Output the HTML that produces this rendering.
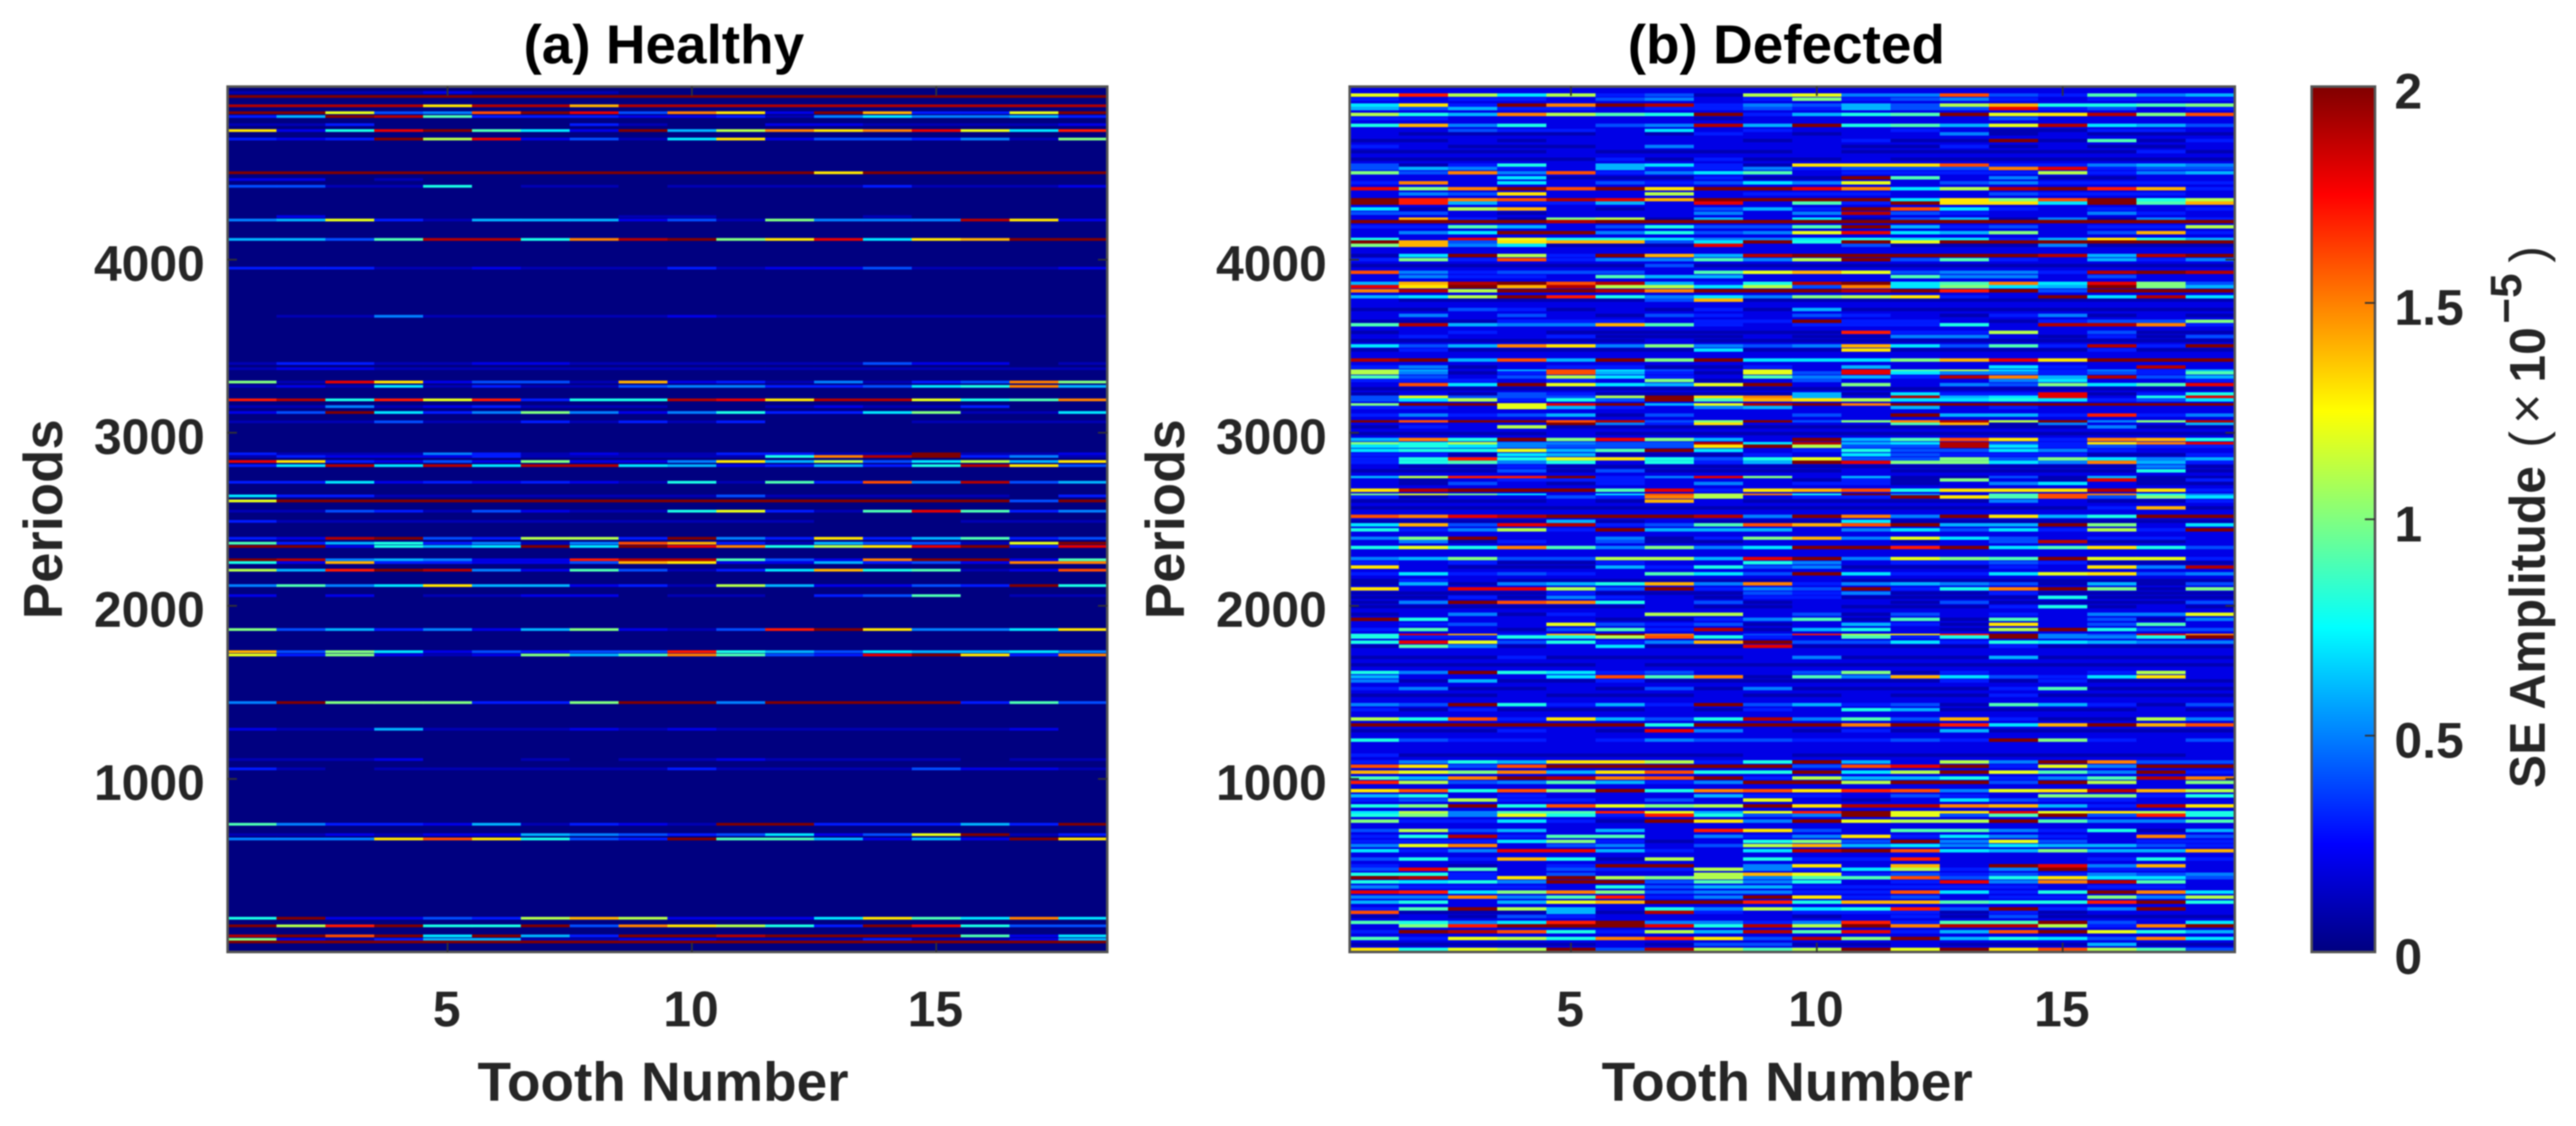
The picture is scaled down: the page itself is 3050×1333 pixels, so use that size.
<!DOCTYPE html>
<html lang="en">
<head>
<meta charset="utf-8">
<title>SE amplitude heatmaps: healthy and defected</title>
<style>
html,body{margin:0;padding:0;background:#fff;}
body{width:3050px;height:1333px;overflow:hidden;}
svg{display:block;filter:blur(0.7px);font-family:"Liberation Sans",sans-serif;}
.lbl{font-weight:bold;fill:#262626;}
.ttl{font-weight:bold;fill:#000;}
</style>
</head>
<body>
<svg id="figure" xmlns="http://www.w3.org/2000/svg" width="3050" height="1333" viewBox="0 0 3050 1333">
  <rect x="0" y="0" width="3050" height="1333" fill="#fff"/>
  <g id="panelA"></g>
  <g id="panelB"></g>
  <g id="colorbar"></g>
</svg>
<script>
// Shared chart data
const toothNumbers = [1,2,3,4,5,6,7,8,9,10,11,12,13,14,15,16,17,18];
const xTickValues = [5,10,15];
const yTickValues = [1000,2000,3000,4000];
const colorbarTickValues = [0,0.5,1,1.5,2];
const colorbarTickLabels = ["0","0.5","1","1.5","2"];
const amplitudeUnit = 0.1; // cell values are stored in tenths of 1e-5

// (a) Healthy: one row per visible period band, values for teeth 1 to 18
const healthyPeriods = [4966,4943,4889,4849,4827,4780,4746,4697,4502,4463,4424,4249,4229,4117,3951,3673,3400,3370,3293,3268,3190,3151,3117,3063,2878,2863,2834,2810,2714,2635,2606,2547,2488,2390,2362,2343,2266,2250,2206,2117,2059,1863,1735,1716,1441,1287,1112,1058,738,678,653,195,151,93,73,58];
const healthyValues = [
[1,1,1,1,2,1,1,1,0,0,0,0,0,0,0,0,0,0],
[20,20,20,20,20,20,20,20,20,20,20,20,20,20,20,20,20,20],
[19,19,19,19,13,19,19,14,19,19,19,19,19,19,19,19,19,19],
[20,20,12,4,5,16,20,18,4,15,13,2,20,14,3,3,12,20],
[3,6,20,19,9,3,3,3,2,2,3,1,5,7,5,5,6,3],
[1,1,3,0,0,0,0,3,1,0,0,2,2,1,1,1,1,2],
[13,2,8,18,20,9,7,2,20,6,11,15,13,15,18,12,7,17],
[3,2,3,20,11,18,2,4,1,7,13,2,4,4,3,5,1,10],
[20,20,20,20,20,20,20,20,20,20,20,20,13,20,20,20,20,20],
[2,2,0,1,0,0,0,0,0,0,0,0,0,0,0,0,0,0],
[4,4,1,1,8,0,1,1,0,1,1,1,1,3,1,1,1,2],
[0,2,0,0,0,0,0,0,1,1,0,0,0,1,0,0,0,0],
[5,6,12,3,1,6,6,6,2,4,1,10,5,5,5,19,13,2],
[6,6,4,9,19,19,8,15,19,20,10,13,18,7,13,14,20,20],
[3,3,3,1,1,2,1,1,1,3,1,2,2,4,1,1,1,2],
[0,1,1,5,1,1,1,1,1,2,1,1,1,1,1,1,1,1],
[1,3,3,1,1,2,2,1,1,1,1,1,1,4,2,2,0,1],
[1,2,2,1,1,1,1,1,1,1,1,1,1,1,1,1,1,1],
[10,1,18,13,2,4,4,1,14,2,3,1,5,1,3,4,15,10],
[1,2,1,7,1,3,1,1,4,5,5,3,3,4,7,8,15,6],
[17,19,8,17,12,17,3,8,8,19,18,13,19,19,12,8,9,15],
[1,1,5,1,2,3,1,1,1,0,0,1,2,1,1,3,0,0],
[2,4,20,7,3,5,10,5,2,5,8,3,3,7,10,1,1,7],
[1,1,1,4,1,1,3,1,3,1,3,0,0,0,1,1,1,1],
[3,1,1,1,5,3,1,2,1,1,3,3,1,1,20,1,1,2],
[1,3,2,2,2,3,1,1,1,1,1,8,15,19,20,3,5,1],
[18,13,3,2,4,2,10,2,2,5,13,6,11,4,7,11,6,13],
[3,7,19,7,19,7,19,19,7,6,2,3,6,3,8,19,13,4],
[3,3,7,2,3,2,3,2,1,8,1,9,3,16,5,19,4,6],
[7,3,3,1,1,1,1,1,1,1,4,1,1,1,1,1,0,3],
[12,20,20,20,20,20,20,20,20,20,20,20,20,20,20,20,4,20],
[1,1,4,3,1,4,2,1,1,8,12,3,1,9,18,9,3,5],
[3,1,1,1,1,1,1,1,1,1,1,1,0,0,0,1,1,1],
[3,2,19,20,4,3,11,11,3,20,5,3,13,3,6,9,3,4],
[9,3,6,8,3,5,1,5,16,14,3,1,6,4,4,1,12,20],
[20,20,2,8,6,7,20,7,20,18,15,8,11,13,18,20,3,18],
[20,19,5,6,5,2,2,17,19,19,9,4,2,15,20,20,2,9],
[8,2,14,3,3,2,2,4,14,13,2,2,6,3,4,2,15,15],
[11,6,17,20,19,5,2,9,4,1,3,7,14,8,9,1,2,16],
[5,9,5,7,13,6,6,2,3,1,11,6,2,2,4,3,20,8],
[2,0,2,0,1,1,2,2,0,1,1,0,3,4,9,0,1,1],
[10,4,6,3,5,2,6,10,2,1,4,17,20,13,5,5,7,13],
[14,4,10,7,2,4,3,4,4,17,8,6,4,7,6,6,7,5],
[12,3,10,2,1,2,10,6,9,15,9,4,3,18,20,13,3,15],
[5,20,10,10,10,3,3,10,20,20,5,20,20,20,20,3,9,4],
[2,1,1,6,1,1,1,2,1,2,1,1,1,1,1,1,2,0],
[1,1,1,2,0,0,1,0,1,1,2,1,1,1,1,0,1,1],
[3,1,0,1,1,1,1,1,1,3,1,1,1,1,4,2,2,1],
[9,5,3,3,2,6,1,3,2,1,20,20,3,3,3,6,3,20],
[1,1,2,1,2,2,6,5,4,3,4,7,2,4,12,20,1,3],
[5,5,5,13,16,13,8,4,3,20,9,9,6,2,6,2,20,13],
[8,20,2,2,4,3,11,14,11,2,2,2,7,13,9,7,15,7],
[20,11,17,20,8,8,20,4,15,13,11,8,3,20,18,8,4,4],
[19,20,16,20,7,20,6,3,20,20,19,20,20,20,20,9,2,7],
[10,2,1,3,6,6,1,1,2,2,1,1,1,3,1,1,2,6],
[20,20,20,20,20,20,20,20,20,20,20,20,20,20,20,20,20,20]
];

// (b) Defected: one row per visible period band, values for teeth 1 to 18
const defectedPeriods = [4951,4927,4893,4873,4839,4815,4776,4746,4727,4688,4654,4624,4580,4546,4527,4502,4473,4444,4410,4380,4346,4327,4293,4268,4234,4220,4190,4156,4117,4102,4083,4024,4000,3966,3927,3902,3863,3844,3820,3785,3766,3712,3678,3644,3624,3580,3556,3532,3502,3478,3420,3380,3356,3346,3322,3302,3278,3254,3224,3205,3190,3161,3146,3102,3063,3049,3034,2995,2961,2937,2922,2898,2873,2849,2829,2805,2780,2741,2727,2707,2668,2639,2629,2605,2566,2517,2488,2468,2439,2390,2371,2337,2273,2249,2224,2185,2146,2127,2098,2073,2049,2020,1995,1951,1922,1893,1863,1829,1820,1790,1766,1702,1659,1615,1590,1566,1522,1483,1429,1400,1346,1312,1278,1224,1137,1098,1073,1039,1005,980,932,902,878,844,805,790,756,702,668,639,615,585,537,498,478,449,429,405,376,346,317,288,249,229,205,171,151,117,78,44,15];
const defectedValues = [
[12,17,11,7,11,3,4,1,11,12,5,5,16,4,3,9,5,6],
[3,2,3,3,2,4,5,2,3,10,3,4,5,3,2,3,3,3],
[7,13,3,20,15,20,19,3,5,4,6,4,11,14,8,8,9,10],
[6,4,6,3,3,2,3,3,4,3,6,4,4,18,3,4,2,3],
[11,8,6,15,11,9,8,20,3,6,8,9,20,12,13,19,10,16],
[3,3,2,2,2,2,2,1,2,2,2,2,2,4,2,2,2,2],
[8,14,5,8,2,4,5,19,6,20,8,9,6,12,19,7,6,4],
[2,2,4,3,3,2,7,2,3,2,2,3,2,1,1,3,3,2],
[2,1,1,1,1,2,1,3,2,1,2,2,5,1,2,1,1,1],
[1,1,2,1,2,2,2,2,1,2,3,1,1,20,1,9,1,3],
[3,2,1,1,1,2,5,2,2,2,1,1,3,1,2,1,1,2],
[1,1,1,1,2,1,1,1,1,2,1,1,1,1,1,1,3,1],
[1,1,1,1,1,3,1,3,1,1,2,1,1,1,1,1,1,1],
[4,1,3,8,2,6,7,3,1,13,13,13,16,3,3,5,6,5],
[4,6,5,3,2,6,3,3,5,3,4,4,4,15,18,3,4,4],
[10,4,15,5,16,3,5,7,9,2,3,3,3,3,11,3,5,6],
[2,2,2,7,1,1,1,3,1,1,20,9,2,5,1,1,2,2],
[3,15,2,7,2,4,3,4,7,5,12,2,4,5,3,3,3,3],
[18,10,15,20,16,20,13,20,20,18,15,7,11,19,20,17,14,3],
[2,5,4,13,2,2,11,2,3,3,3,2,2,4,3,3,3,2],
[20,17,15,16,19,18,14,20,20,20,20,7,13,10,16,20,8,11],
[20,17,6,3,3,6,2,18,2,9,3,20,13,13,7,20,9,14],
[7,1,11,14,2,1,2,4,6,3,20,16,7,3,2,3,2,3],
[4,4,2,1,2,2,2,5,2,5,19,4,3,2,2,5,3,2],
[2,14,3,1,10,11,1,6,2,7,1,4,6,1,5,1,5,3],
[20,20,20,20,19,20,20,20,20,20,20,20,20,20,20,20,20,20],
[3,3,9,6,2,4,8,4,4,9,20,6,3,4,2,3,3,11],
[2,5,7,20,20,5,8,4,5,12,18,7,6,10,2,4,14,3],
[8,2,18,12,8,8,7,5,5,7,8,7,7,3,6,13,8,6],
[20,14,4,13,14,14,4,7,20,8,20,12,20,20,20,20,20,20],
[10,14,5,7,1,1,1,18,2,2,4,1,1,1,5,1,1,1],
[1,7,20,11,3,20,14,6,19,20,20,20,20,20,19,6,19,20],
[3,10,3,16,3,5,5,9,5,11,20,4,9,3,2,6,3,5],
[1,1,1,1,1,1,4,1,1,1,1,1,1,1,1,1,1,1],
[16,5,3,4,4,4,2,9,12,14,12,4,5,5,3,19,20,19],
[2,5,3,3,2,9,6,6,2,2,2,9,5,5,2,4,2,2],
[6,14,19,20,16,19,6,3,8,19,20,7,9,15,7,18,10,4],
[18,13,20,14,19,11,11,7,11,4,15,7,10,7,6,20,10,6],
[15,19,11,20,20,19,15,20,20,20,19,20,17,20,4,20,20,20],
[6,7,11,20,17,8,5,7,5,10,11,13,3,2,20,7,19,7],
[2,1,1,1,1,1,4,14,1,1,1,1,1,1,1,1,1,1],
[1,1,4,3,1,2,1,3,1,6,1,1,1,1,1,1,1,1],
[2,5,2,4,2,1,4,3,2,4,3,2,1,3,5,1,2,1],
[1,1,1,3,3,3,2,3,3,20,3,3,2,1,3,4,4,10],
[9,19,6,5,5,14,9,3,2,3,3,3,8,2,19,19,15,3],
[1,2,3,2,1,1,1,1,1,1,17,3,3,11,2,4,1,1],
[2,3,2,2,3,1,1,1,2,1,1,5,5,2,1,3,1,4],
[1,1,1,1,1,1,2,1,1,1,1,1,1,1,1,1,1,1],
[7,4,6,15,13,5,10,5,4,5,14,7,4,9,3,19,3,20],
[1,3,1,1,1,1,1,7,1,1,13,1,1,1,1,3,1,1],
[19,20,6,16,6,20,10,20,7,7,7,10,14,18,13,20,20,20],
[3,5,1,2,3,3,1,1,3,2,6,2,2,7,3,2,19,2],
[11,6,2,6,16,7,4,2,12,2,18,9,11,7,3,5,3,6],
[11,5,1,3,16,6,3,1,12,4,18,7,5,5,3,4,3,9],
[9,4,2,4,11,7,3,2,9,5,6,3,19,15,6,19,4,6],
[3,3,3,2,3,2,10,1,2,4,2,2,2,5,7,2,2,3],
[2,16,7,20,12,7,6,12,20,2,10,2,5,4,10,7,9,18],
[1,1,1,1,1,1,1,1,1,1,1,1,1,1,1,1,1,1],
[1,2,1,4,3,1,1,1,1,6,1,7,3,3,18,1,3,8],
[4,12,4,4,4,11,20,13,15,6,2,19,6,7,18,2,8,18],
[4,7,11,3,8,4,20,9,14,13,11,7,7,8,7,3,4,7],
[10,20,20,12,18,20,6,12,19,20,15,20,20,20,20,20,20,20],
[3,3,2,12,6,3,2,5,6,2,2,6,2,3,2,2,2,2],
[3,5,3,4,6,1,4,2,2,4,2,20,6,6,3,17,3,5],
[20,16,20,20,16,19,4,10,20,4,10,15,19,11,20,5,10,19],
[2,2,2,2,20,5,3,13,2,2,2,9,14,1,5,2,2,6],
[1,3,2,11,1,1,1,1,1,1,1,1,1,1,1,5,1,1],
[1,1,1,1,2,1,1,1,1,1,1,1,1,1,1,1,1,1],
[6,15,8,20,10,18,10,6,2,20,6,9,16,13,3,15,14,8],
[10,8,11,5,5,4,4,19,7,19,6,7,19,4,3,13,15,18],
[7,8,7,5,4,4,4,13,20,11,4,4,19,7,3,4,3,3],
[7,8,8,12,6,9,20,7,2,3,8,4,4,7,5,3,2,2],
[3,3,1,7,6,1,1,1,3,2,7,4,3,3,3,1,1,3],
[3,8,17,8,12,13,8,4,8,12,4,4,10,4,10,7,5,6],
[3,8,9,5,8,2,8,3,6,20,18,10,10,7,5,15,6,3],
[2,1,1,3,1,1,1,1,1,1,1,1,1,1,1,1,5,1],
[1,1,1,4,1,4,1,1,1,1,2,1,1,1,1,1,8,1],
[6,11,17,17,20,3,5,18,10,2,6,1,1,4,1,6,1,1],
[2,1,2,3,3,3,2,2,2,1,3,1,10,2,1,18,1,3],
[2,1,4,2,1,3,2,5,2,3,3,1,2,5,7,2,1,1],
[13,19,20,20,20,9,18,3,13,14,16,8,13,13,13,19,13,3],
[10,12,10,7,2,7,16,11,15,8,20,5,2,9,16,15,8,5],
[3,1,2,2,4,3,15,11,2,3,3,20,13,9,16,4,10,7],
[1,1,1,1,2,1,14,2,1,1,1,1,1,5,2,1,1,3],
[1,1,1,1,1,1,1,1,1,1,1,1,1,1,1,3,14,1],
[16,15,18,19,20,20,20,19,5,20,15,5,20,13,6,8,20,20],
[1,1,1,1,6,1,2,1,1,1,7,1,1,1,1,1,1,1],
[7,14,4,18,19,3,4,9,16,14,16,20,6,6,20,10,2,7],
[8,3,5,11,3,20,6,6,6,2,5,7,4,7,3,11,3,20],
[5,10,20,2,2,5,1,3,10,14,5,12,7,4,2,3,3,2],
[2,5,1,3,2,4,1,1,2,2,2,1,2,4,19,1,1,2],
[8,12,8,15,9,5,10,5,7,20,20,17,20,7,9,13,8,4],
[5,6,10,4,4,11,11,6,18,20,5,12,10,9,20,12,12,3],
[3,2,3,1,1,3,2,2,8,5,2,3,3,4,3,1,1,1],
[13,2,1,1,1,6,3,8,4,5,1,1,1,3,2,13,5,19],
[3,7,3,4,3,2,9,7,4,20,7,3,3,7,12,13,4,5],
[1,3,2,1,1,1,1,1,1,2,1,1,1,1,1,1,1,1],
[1,6,1,5,6,8,14,5,15,3,5,6,5,4,1,6,1,4],
[13,2,18,18,11,4,20,3,5,4,20,3,8,15,20,10,1,10],
[1,1,1,1,3,1,1,1,4,3,5,1,1,3,1,1,1,1],
[1,1,3,1,5,3,2,1,3,3,1,1,1,1,8,1,1,1],
[1,5,20,16,15,8,2,4,1,2,2,1,4,1,1,1,1,4],
[1,1,1,1,1,1,2,1,1,2,1,1,1,3,8,1,2,1],
[1,2,5,1,3,2,11,11,2,4,1,4,2,3,2,5,5,12],
[20,8,2,2,2,1,1,3,5,9,1,9,1,9,2,4,1,5],
[2,3,4,2,12,4,3,4,1,2,6,3,1,13,2,4,9,2],
[3,9,2,1,4,9,3,19,1,6,8,2,1,11,20,8,4,4],
[8,18,14,3,14,20,15,2,4,17,11,13,17,20,5,4,18,15],
[8,3,3,8,8,11,16,8,3,2,9,3,8,20,5,5,8,20],
[8,18,12,4,8,3,5,14,20,4,4,7,3,8,7,6,5,5],
[1,9,5,1,2,7,1,1,18,1,1,1,1,3,1,1,1,1],
[1,1,1,3,1,1,1,1,2,5,1,1,1,6,1,1,1,1],
[1,1,1,1,1,2,1,1,1,1,1,1,1,1,1,1,1,1],
[8,5,20,8,7,3,4,2,2,4,10,1,3,2,2,3,11,2],
[6,2,2,2,7,16,9,15,1,9,5,14,7,4,3,7,13,2],
[5,1,6,1,1,3,1,1,1,1,1,1,3,1,3,1,1,1],
[3,5,1,1,2,1,4,1,5,1,1,1,1,3,9,1,1,1],
[1,1,1,2,1,1,1,2,1,1,2,1,1,3,1,1,1,1],
[5,4,20,8,3,6,3,20,4,6,3,4,1,9,6,3,1,4],
[3,1,3,1,1,1,2,1,3,2,8,6,1,1,1,1,2,1],
[11,8,16,3,13,6,4,8,19,5,9,4,14,3,1,1,11,5],
[20,20,20,20,20,20,8,20,20,20,15,20,17,7,14,20,14,16],
[1,1,1,3,2,1,18,5,2,1,3,1,6,1,1,1,1,1],
[8,4,3,3,2,3,5,4,4,3,3,4,3,20,10,3,2,4],
[3,1,1,1,1,1,1,1,2,1,1,1,1,1,1,1,1,2],
[3,5,8,6,13,13,11,3,8,20,6,2,11,5,20,15,4,4],
[16,13,4,16,20,20,20,20,20,4,16,18,20,3,12,5,20,20],
[14,12,10,15,6,13,16,8,8,20,7,11,20,12,9,5,20,3],
[9,6,15,20,19,15,16,20,3,11,6,6,8,3,5,9,19,15],
[17,11,4,5,9,6,3,5,20,20,11,20,20,4,20,11,2,10],
[13,16,8,16,10,20,8,15,16,13,17,16,5,12,13,19,14,11],
[6,8,2,3,2,2,2,6,3,3,2,4,3,2,10,10,3,8],
[3,4,11,3,3,2,4,2,12,2,1,2,7,4,3,3,2,2],
[8,10,20,8,16,12,10,11,20,13,19,19,15,14,6,3,19,13],
[7,11,5,9,9,17,12,6,12,17,20,12,13,18,12,13,11,8],
[8,10,5,12,8,3,17,8,4,5,20,12,4,9,20,4,17,8],
[10,3,3,7,3,1,20,13,5,20,12,11,11,20,9,5,5,9],
[4,11,4,6,2,6,2,17,13,4,2,9,9,5,3,8,1,6],
[3,8,19,3,9,9,2,5,3,5,13,3,7,5,3,2,15,4],
[3,3,3,7,10,3,1,2,8,10,4,20,5,12,4,2,3,3],
[5,12,15,2,4,5,2,4,11,14,6,7,5,7,6,6,4,3],
[7,3,5,18,18,6,3,2,7,19,20,16,7,6,10,6,6,14],
[4,8,3,14,8,1,11,2,8,3,3,17,2,2,2,3,8,3],
[3,2,1,2,3,20,20,2,5,13,2,14,2,20,18,5,14,2],
[4,18,9,2,4,3,3,11,5,3,7,11,3,5,20,3,3,2],
[8,8,3,2,4,2,2,11,14,12,3,4,3,4,3,5,4,5],
[20,19,3,13,20,11,10,11,5,9,9,16,4,8,13,7,7,4],
[8,7,8,5,20,20,4,9,5,8,2,3,18,5,15,19,9,2],
[5,3,3,3,2,8,4,6,6,3,3,3,3,3,2,3,3,2],
[18,17,7,10,15,10,4,5,5,3,3,16,7,3,8,20,15,7],
[5,5,15,5,9,17,3,5,20,13,3,4,2,3,3,10,5,11],
[6,8,2,6,12,14,20,20,17,8,14,14,9,8,8,17,20,8],
[3,9,20,11,6,2,8,5,11,7,8,17,4,20,3,5,20,2],
[16,1,1,1,6,1,19,3,2,3,3,3,1,3,1,2,2,2],
[1,2,1,4,3,2,2,2,2,1,2,3,1,4,1,1,1,1],
[9,8,5,7,17,20,5,5,3,5,17,3,9,9,20,4,2,7],
[2,10,17,20,20,20,18,8,19,11,20,15,19,19,11,3,15,20],
[3,20,19,16,8,3,11,6,19,9,18,3,6,16,20,12,8,6],
[9,3,12,11,8,15,17,13,4,19,10,20,6,8,7,4,15,7],
[1,1,1,1,1,2,1,4,4,1,1,2,1,1,1,6,1,1],
[13,8,12,11,20,4,19,11,9,11,20,12,20,13,16,11,9,4]
];

// Drawing
const svgNS = "http://www.w3.org/2000/svg";
const plotTop = 102.5;
const plotBottom = 1127;
const periodMax = 5000;
const amplitudeMax = 2;

function yScale(period){ return plotBottom - period / periodMax * (plotBottom - plotTop); }
function makeXScale(left, right){
  return function(t){ return left + (t - 0.5) / toothNumbers.length * (right - left); };
}
function clamp01(v){ return Math.max(0, Math.min(1, v)); }
function jet(amplitude){
  const v = clamp01(amplitude / amplitudeMax);
  const r = clamp01(1.5 - Math.abs(4 * v - 3));
  const g = clamp01(1.5 - Math.abs(4 * v - 2));
  const b = clamp01(1.5 - Math.abs(4 * v - 1));
  return "rgb(" + Math.round(r * 255) + "," + Math.round(g * 255) + "," + Math.round(b * 255) + ")";
}
function node(parent, tag, attrs, text){
  const el = document.createElementNS(svgNS, tag);
  for (const k in attrs) el.setAttribute(k, attrs[k]);
  if (text !== undefined) el.textContent = text;
  parent.appendChild(el);
  return el;
}

function drawPanel(group, opts){
  const xScale = makeXScale(opts.left, opts.right);
  const bg = node(group, "rect", {x: opts.left, y: plotTop, width: opts.right - opts.left, height: plotBottom - plotTop, fill: jet(opts.baseLevel * amplitudeUnit)});
  
  

  const cells = node(group, "g", {});
  
  
  opts.periods.forEach(function(period, r){
    const row = opts.values[r];
    const yTop = yScale(period + opts.span / 2);
    const yBot = yScale(period - opts.span / 2);
    row.forEach(function(val, c){
      const tooth = toothNumbers[c];
      const x0 = xScale(tooth - 0.5);
      const x1 = xScale(tooth + 0.5);
      const cell = node(cells, "rect", {x: x0, y: yTop, width: x1 - x0 + 0.4, height: yBot - yTop, fill: jet(val * amplitudeUnit)});
      
      
    });
  });

  const frame = node(group, "rect", {x: opts.left, y: plotTop, width: opts.right - opts.left, height: plotBottom - plotTop, fill: "none", stroke: "#555", "stroke-width": 3});
  
  

  xTickValues.forEach(function(t){
    const x = xScale(t);
    const tickB = node(group, "line", {x1: x, x2: x, y1: plotBottom, y2: plotBottom - 11, stroke: "#333", "stroke-width": 2});
    
    
    const tickT = node(group, "line", {x1: x, x2: x, y1: plotTop, y2: plotTop + 11, stroke: "#333", "stroke-width": 2});
    
    
    const lab = node(group, "text", {x: x - 1, y: 1215, "text-anchor": "middle", "font-size": 59, "class": "lbl"}, String(t));
    
    
  });
  yTickValues.forEach(function(p){
    const y = yScale(p);
    const tickL = node(group, "line", {x1: opts.left, x2: opts.left + 11, y1: y, y2: y, stroke: "#333", "stroke-width": 2});
    
    
    const tickR = node(group, "line", {x1: opts.right, x2: opts.right - 11, y1: y, y2: y, stroke: "#333", "stroke-width": 2});
    
    
    const lab = node(group, "text", {x: opts.left - 27, y: y + 25, "text-anchor": "end", "font-size": 59, "class": "lbl"}, String(p));
    
    
  });

  const title = node(group, "text", {x: opts.titleX, y: 75, "text-anchor": "middle", "font-size": 65, "class": "ttl"}, opts.title);
  
  
  const xt = node(group, "text", {x: opts.xTitleX, y: 1303, "text-anchor": "middle", "font-size": 65, "class": "lbl"}, "Tooth Number");
  
  
  const yt = node(group, "text", {x: 0, y: 0, "font-size": 64.5, "class": "lbl", transform: "translate(" + (opts.left - 196) + ",733) rotate(-90)"}, "Periods");
  
  
}

drawPanel(document.getElementById("panelA"), {
  left: 269.5, right: 1311, span: 16, baseLevel: 0,
  periods: healthyPeriods, values: healthyValues,
  title: "(a) Healthy", titleX: 786, xTitleX: 785
});
drawPanel(document.getElementById("panelB"), {
  left: 1598, right: 2646, span: 20, baseLevel: 2,
  periods: defectedPeriods, values: defectedValues,
  title: "(b) Defected", titleX: 2115, xTitleX: 2116
});

// Colorbar
(function(){
  const group = document.getElementById("colorbar");
  const left = 2737, right = 2812;
  function cScale(v){ return plotBottom - v / amplitudeMax * (plotBottom - plotTop); }
  const defs = node(group, "defs", {});
  const grad = node(defs, "linearGradient", {id: "jetGrad", x1: 0, y1: 1, x2: 0, y2: 0});
  for (let i = 0; i <= 32; i++){
    node(grad, "stop", {offset: i / 32, "stop-color": jet(i / 32 * amplitudeMax)});
  }
  const bar = node(group, "rect", {x: left, y: plotTop, width: right - left, height: plotBottom - plotTop, fill: "url(#jetGrad)", stroke: "#555", "stroke-width": 3});
  
  
  colorbarTickValues.forEach(function(v, i){
    const y = cScale(v);
    if (v > 0 && v < amplitudeMax){
      const t = node(group, "line", {x1: right, x2: right - 12, y1: y, y2: y, stroke: "#333", "stroke-width": 2});
      
      
    }
    const lab = node(group, "text", {x: 2835, y: y + 26, "font-size": 59, "class": "lbl"}, colorbarTickLabels[i]);
    
    
  });
  function rotated(txt, bx, sy, size, weight, name){
    const t = node(group, "text", {x: 0, y: 0, "font-size": size, "font-weight": weight, fill: "#262626", transform: "translate(" + bx + "," + sy + ") rotate(-90)"}, txt);
    
    
  }
  rotated("SE Amplitude", 3013, 933, 59, "bold", "colorbar-title");
  rotated("(", 3013, 530, 59, "normal", "colorbar-title-open-paren");
  rotated("\u00D7", 3013, 502, 62, "normal", "colorbar-title-times");
  rotated("10", 3013, 453, 59, "bold", "colorbar-title-base");
  rotated("\u22125", 2985, 383, 52, "bold", "colorbar-title-exponent");
  rotated(")", 3013, 311, 59, "normal", "colorbar-title-close-paren");
})();
</script>
</body>
</html>
